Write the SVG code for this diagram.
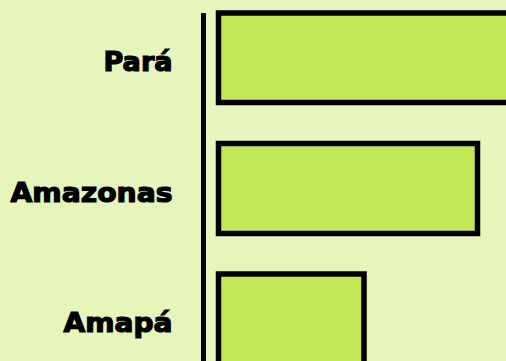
<svg xmlns="http://www.w3.org/2000/svg" width="506" height="361" viewBox="0 0 506 361">
<style>
.bar{fill:#c2e858;stroke:#000;stroke-width:5.5}
.lbl{font-family:"DejaVu Sans","Liberation Sans",sans-serif;font-weight:bold;font-size:27px;fill:#000;stroke:#000;stroke-width:1.2;text-anchor:end}
</style>
<rect width="506" height="361" fill="#e5f5bc"/>
<g id="axis"><line x1="203.5" y1="13" x2="203.5" y2="361" stroke="#000" stroke-width="5"/></g>
<g id="para"><rect class="bar" x="218.5" y="13" width="300" height="89.5"/><text class="lbl" x="172.5" y="71" textLength="69" lengthAdjust="spacingAndGlyphs">Pará</text></g>
<g id="amazonas"><rect class="bar" x="218.5" y="143.5" width="259" height="90"/><text class="lbl" x="172.5" y="202" textLength="162" lengthAdjust="spacingAndGlyphs">Amazonas</text></g>
<g id="amapa"><rect class="bar" x="218.5" y="274" width="145.5" height="95"/><text class="lbl" x="172.5" y="332" textLength="109" lengthAdjust="spacingAndGlyphs">Amapá</text></g>
</svg>
